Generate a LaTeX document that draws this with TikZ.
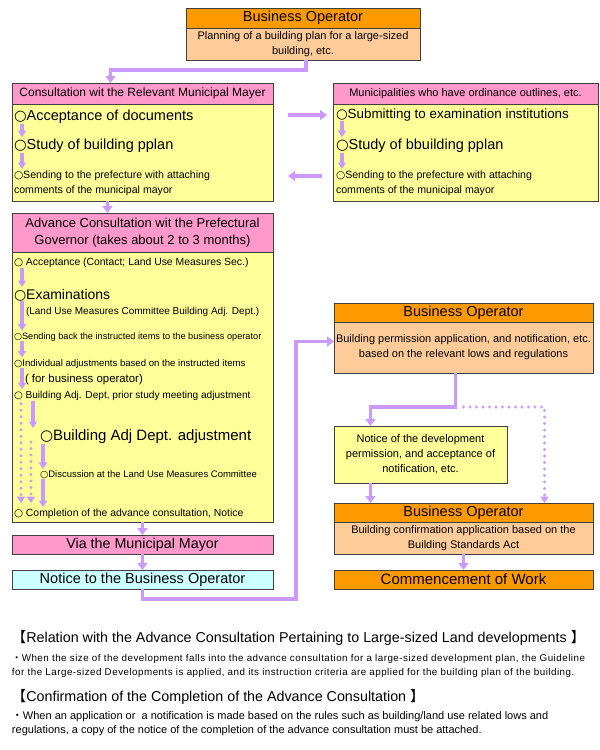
\documentclass[tikz,border=0pt]{standalone}
\usepackage{fontspec}
\setmainfont{Liberation Sans}
\newfontfamily\cjk{Noto Sans CJK JP}
\newfontfamily\symf{DejaVu Sans}
\newfontfamily\wide[LetterSpace=5]{Liberation Sans}
\usetikzlibrary{arrows.meta,calc}
\definecolor{orangehd}{RGB}{255,153,0}
\definecolor{peach}{RGB}{255,204,153}
\definecolor{pinkhd}{RGB}{255,153,204}
\definecolor{yellowbd}{RGB}{255,255,153}
\definecolor{cyanbd}{RGB}{204,255,255}
\definecolor{arrowpurple}{RGB}{204,153,255}
\newcommand\fsz[2]{\fontsize{#1}{#2}\selectfont}
\newcommand\ring{{\symf ○}}
\begin{document}
\begin{tikzpicture}[x=1pt,y=-1pt,
    plainbox/.style={draw=black!75,line width=0.9pt,inner sep=0pt,outer sep=0pt,anchor=north west,align=center},
    orangebox/.style={plainbox,fill=orangehd},
    peachbox/.style={plainbox,fill=peach},
    pinkbox/.style={plainbox,fill=pinkhd},
    yellowbox/.style={plainbox,fill=yellowbd},
    cyanbox/.style={plainbox,fill=cyanbd},
    entry/.style={inner sep=0pt,outer sep=0pt,anchor=west},
    bigarrow/.style={draw=arrowpurple,line width=3.5pt,-{Triangle[width=10pt,length=7pt]}},
    smallarrow/.style={draw=arrowpurple,line width=3.2pt,shorten >=2pt,-{Triangle[width=8pt,length=6.5pt]}},
    dotarrow/.style={draw=arrowpurple,line width=3.4pt,line cap=round,dash pattern=on 0pt off 6.5pt,-{Triangle[width=8pt,length=6.5pt]}}]
    \fill[white] (0,0) rectangle (600,750);
    \useasboundingbox (0,0) rectangle (600,750);
    % top: business operator
    \node[orangebox,minimum width=234,minimum height=20,font=\fsz{14.5}{16}] (boh) at (186,8) {Business Operator};
    \node[peachbox,minimum width=234,minimum height=32,font=\fsz{11}{15}] (bob) at (186,28) {Planning of a building plan for a large-sized\\building, etc.};
    % consultation with the municipal mayor
    \node[pinkbox,minimum width=261,minimum height=21,font=\fsz{12}{14}] (cmh) at (12,83) {Consultation wit the Relevant Municipal Mayer};
    \node[yellowbox,minimum width=261,minimum height=97] (cmb) at (12,104) {};
    \node[entry,font=\fsz{14.5}{16}] (cm1) at (14,117) {\ring Acceptance of documents};
    \node[entry,font=\fsz{14.5}{16}] (cm2) at (14,146) {\ring Study of building pplan};
    \node[entry,font=\fsz{10.6}{13}] (cm3) at (14,176) {\ring Sending to the prefecture with attaching};
    \node[entry,font=\fsz{10.6}{13}] (cm4) at (14,191) {comments of the municipal mayor};
    \draw[smallarrow] ([xshift=8]cm1.south west) -- ([xshift=8]cm2.north west);
    \draw[smallarrow] ([xshift=8]cm2.south west) -- ([xshift=8]cm3.north west);
    % municipalities with ordinance outlines
    \node[pinkbox,minimum width=265,minimum height=21,font=\fsz{11}{13}] (moh) at (333,83) {Municipalities who have ordinance outlines, etc.};
    \node[yellowbox,minimum width=265,minimum height=97] (mob) at (333,104) {};
    \node[entry,font=\fsz{13.4}{16}] (mo1) at (336,115) {\ring Submitting to examination institutions};
    \node[entry,font=\fsz{14.5}{16}] (mo2) at (336,146) {\ring Study of bbuilding pplan};
    \node[entry,font=\fsz{10.6}{13}] (mo3) at (336,176) {\ring Sending to the prefecture with attaching};
    \node[entry,font=\fsz{10.6}{13}] (mo4) at (336,191) {comments of the municipal mayor};
    \draw[smallarrow] ([xshift=6]mo1.south west) -- ([xshift=6]mo2.north west);
    \draw[smallarrow] ([xshift=6]mo2.south west) -- ([xshift=6]mo3.north west);
    % between the two boxes
    \draw[bigarrow] ($(cmb.east|-mo1.west)+(15,0)$) -- ($(mob.west|-mo1.west)+(-6,0)$);
    \draw[bigarrow] ($(mob.west|-mo3.west)+(-11,0)$) -- ($(cmb.east|-mo3.west)+(15,0)$);
    \draw[bigarrow] ([xshift=3]bob.south) -- ++(0,10) -| ([xshift=-32]cmh.north);
    % advance consultation with the prefectural governor
    \node[pinkbox,minimum width=261,minimum height=39,font=\fsz{13}{17}] (ach) at (12,213) {Advance Consultation wit the Prefectural\\Governor (takes about 2 to 3 months)};
    \node[yellowbox,minimum width=261,minimum height=270] (acb) at (12,252) {};
    \draw[bigarrow] ([xshift=-35]cmb.south) -- ([xshift=-35]ach.north);
    \node[entry,font=\fsz{10.4}{13}] (ac1) at (14,263) {\ring\ Acceptance (Contact; Land Use Measures Sec.)};
    \node[entry,font=\fsz{14}{16}] (ac2) at (14,295) {\ring Examinations};
    \node[entry,font=\fsz{10}{12}] (ac3) at (26,312) {(Land Use Measures Committee Building Adj. Dept.)};
    \node[entry,font=\fsz{9.2}{12}] (ac4) at (14,337) {\ring Sending back the instructed items to the business operator};
    \node[entry,font=\fsz{9.6}{12}] (ac5) at (14,364) {\ring Individual adjustments based on the instructed items};
    \node[entry,font=\fsz{11.4}{13}] (ac6) at (25,380) {( for business operator)};
    \node[entry,font=\fsz{10.1}{12}] (ac7) at (14,396) {\ring\ Building Adj. Dept, prior study meeting adjustment};
    \node[entry,font=\fsz{15}{17}] (ac8) at (40,437) {\ring Building Adj Dept. adjustment};
    \node[entry,font=\fsz{9.5}{12}] (ac9) at (40,475) {\ring Discussion at the Land Use Measures Committee};
    \node[entry,font=\fsz{10.4}{12}] (ac10) at (14,514) {\ring\ Completion of the advance consultation, Notice};
    \draw[smallarrow] ([xshift=8]ac1.south west) -- ([xshift=8]ac2.north west);
    \draw[smallarrow] ([xshift=8]ac2.south west) -- ([xshift=8]ac4.north west);
    \draw[smallarrow] ([xshift=8]ac4.south west) -- ([xshift=8]ac5.north west);
    \draw[smallarrow] ([xshift=8]ac5.south west) -- ([xshift=8]ac7.north west);
    \draw[smallarrow] ([xshift=19]ac7.south west) -- ([xshift=-7]ac8.north west);
    \draw[smallarrow] ([xshift=3]ac8.south west) -- ([xshift=3]ac9.north west);
    \draw[smallarrow] ([xshift=3]ac9.south west) -- ([xshift=29]ac10.north west);
    \draw[dotarrow,shorten <=3pt,shorten >=6pt] ([xshift=7]ac7.south west) -- ([xshift=7]ac10.north west);
    \draw[dotarrow,shorten >=6pt] ([xshift=-9,yshift=-5]ac8.west) -- ([xshift=17]ac10.north west);
    % via the mayor, notice
    \node[pinkbox,minimum width=261,minimum height=19,font=\fsz{14.3}{16}] (via) at (12,535) {Via the Municipal Mayor};
    \node[cyanbox,minimum width=261,minimum height=19,font=\fsz{14.5}{16}] (nbo) at (12,570) {Notice to the Business Operator};
    \draw[bigarrow] (acb.south) -- (via.north);
    \draw[bigarrow] (via.south) -- (nbo.north);
    % right side: permission, confirmation, work
    \node[orangebox,minimum width=259,minimum height=19,font=\fsz{14.5}{16}] (bph) at (334,303) {Business Operator};
    \node[peachbox,minimum width=259,minimum height=51,font=\fsz{11}{15}] (bpb) at (334,322) {Building permission application, and notification, etc.\\based on the relevant lows and regulations};
    \node[yellowbox,minimum width=173,minimum height=57,font=\fsz{11}{15}] (nd) at (334,426) {Notice of the development\\permission, and acceptance of\\notification, etc.};
    \node[orangebox,minimum width=259,minimum height=19,font=\fsz{14.5}{16}] (boh2) at (334,503) {Business Operator};
    \node[peachbox,minimum width=259,minimum height=32,font=\fsz{11}{15}] (bob2) at (334,522) {Building confirmation application based on the\\Building Standards Act};
    \node[orangebox,minimum width=259,minimum height=19,font=\fsz{15}{16}] (cw) at (334,570) {Commencement of Work};
    \draw[bigarrow] (nbo.south) -- ++(0,10) -| ([xshift=-38,yshift=6]bpb.west) -- ([yshift=6]bpb.west);
    \draw[bigarrow] ([xshift=-8]bpb.south) -- ++(0,34) -| ([xshift=-50]nd.north);
    \draw[dotarrow] ([xshift=-8]bpb.south) ++(8,34) -| ([xshift=81]boh2.north);
    \draw[bigarrow] ([xshift=-50]nd.south) -- ([xshift=-50]nd.south |- boh2.north);
    \draw[bigarrow] (bob2.south) -- (cw.north);
    % notes
    \node[entry,font=\fsz{14.3}{16}] (rel) at (12,638) {{\cjk 【}Relation with the Advance Consultation Pertaining to Large-sized Land developments {\cjk 】}};
    \node[entry,font=\wide\fsz{9.8}{12}] (rel1) at (12,659) {{\cjk ・}When the size of the development falls into the advance consultation for a large-sized development plan, the Guideline};
    \node[entry,font=\wide\fsz{9.8}{12}] (rel2) at (12,673) {for the Large-sized Developments is applied, and its instruction criteria are applied for the building plan of the building.};
    \node[entry,font=\fsz{14.3}{16}] (conf) at (12,697) {{\cjk 【}Confirmation of the Completion of the Advance Consultation {\cjk 】}};
    \node[entry,font=\fsz{11}{12}] (conf1) at (12,717) {{\cjk ・}When an application or~ a notification is made based on the rules such as building/land use related lows and};
    \node[entry,font=\fsz{11}{12}] (conf2) at (12,731) {regulations, a copy of the notice of the completion of the advance consultation must be attached.};
  \end{tikzpicture}
\end{document}
